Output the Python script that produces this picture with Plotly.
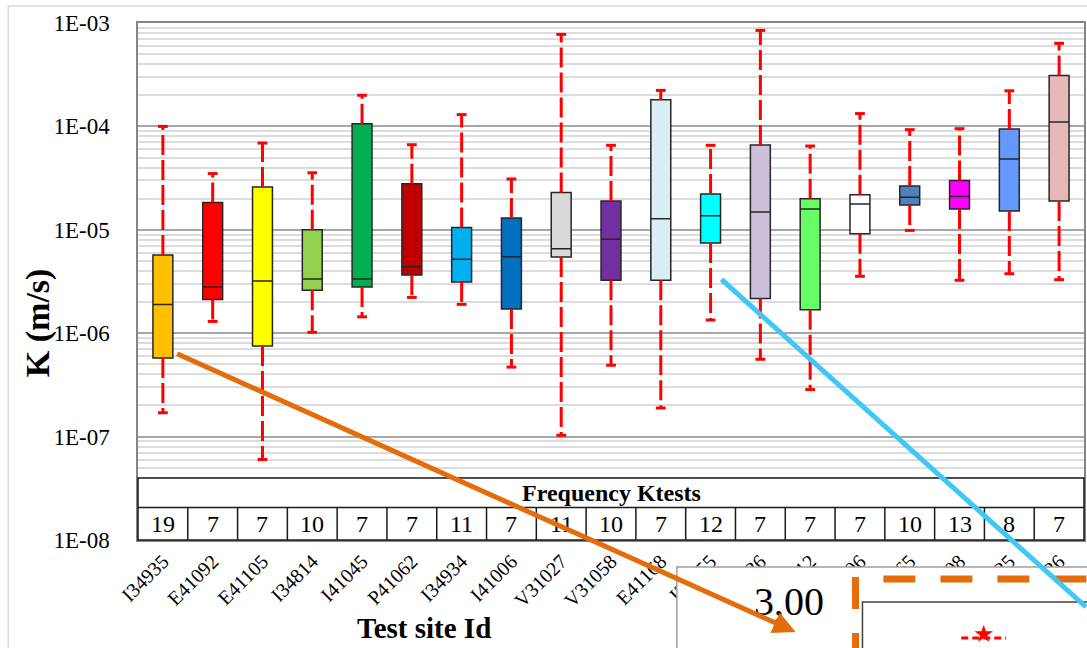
import plotly.graph_objects as go

# ---------------- data ----------------
sites = ["I34935", "E41092", "E41105", "I34814", "I41045", "P41062", "I34934",
         "I41006", "V31027", "V31058", "E41168", "I34855", "V31036", "E41112",
         "P41106", "I34865", "V31108", "E41125", "I41126"]
counts = [19, 7, 7, 10, 7, 7, 11, 7, 11, 10, 7, 12, 7, 7, 7, 10, 13, 8, 7]
k_min = [1.7e-7, 1.3e-6, 6.0e-8, 1.02e-6, 1.44e-6, 2.22e-6, 1.9e-6, 4.7e-7, 1.03e-7,
         4.9e-7, 1.89e-7, 1.34e-6, 5.6e-7, 2.85e-7, 3.55e-6, 9.87e-6, 3.25e-6, 3.76e-6, 3.29e-6]
k_q1 = [5.75e-7, 2.12e-6, 7.5e-7, 2.6e-6, 2.8e-6, 3.66e-6, 3.13e-6, 1.71e-6, 5.46e-6,
        3.25e-6, 3.25e-6, 7.45e-6, 2.16e-6, 1.69e-6, 9.16e-6, 1.74e-5, 1.59e-5, 1.52e-5, 1.9e-5]
k_med = [1.9e-6, 2.8e-6, 3.2e-6, 3.35e-6, 3.35e-6, 4.4e-6, 5.2e-6, 5.5e-6, 6.55e-6,
         8.1e-6, 1.28e-5, 1.37e-5, 1.49e-5, 1.59e-5, 1.78e-5, 2.06e-5, 2.1e-5, 4.84e-5, 1.1e-4]
k_q3 = [5.7e-6, 1.84e-5, 2.6e-5, 1.0e-5, 1.06e-4, 2.79e-5, 1.05e-5, 1.3e-5, 2.3e-5,
        1.9e-5, 1.81e-4, 2.22e-5, 6.6e-5, 2.0e-5, 2.18e-5, 2.65e-5, 2.99e-5, 9.44e-5, 3.11e-4]
k_max = [1.0e-4, 3.5e-5, 6.9e-5, 3.56e-5, 2.0e-4, 6.65e-5, 1.3e-4, 3.1e-5, 7.76e-4,
         6.56e-5, 2.23e-4, 6.56e-5, 8.48e-4, 6.46e-5, 1.33e-4, 9.3e-5, 9.5e-5, 2.21e-4, 6.36e-4]
box_colors = ["#FFC000", "#FF0000", "#FFFF00", "#92D050", "#00B050", "#C00000", "#00B0F0",
              "#0070C0", "#D9D9D9", "#7030A0", "#DAEEF3", "#00FFFF", "#CCC0DA", "#66FF66",
              "#FFFFFF", "#4F81BD", "#FF00FF", "#6699FF", "#E6B9B8"]
y_tickvals = [1e-8, 1e-7, 1e-6, 1e-5, 1e-4, 1e-3]
y_ticktext = ["1E-08", "1E-07", "1E-06", "1E-05", "1E-04", "1E-03"]
minor_vals = [m * 10.0 ** e for e in range(-8, -3) for m in range(2, 10)]

SERIF = "Liberation Serif"
W, H = 1087, 648
L, R, T, B = 138, 1, 23, 108
PW, PH = W - L - R, H - T - B


def px(x):
    return (x - L) / PW


def py(y):
    return (H - B - y) / PH


fig = go.Figure()

# whiskers (dashed red)
wx, wy = [], []
for s, lo, q1, q3, hi in zip(sites, k_min, k_q1, k_q3, k_max):
    wx += [s, s, None, s, s, None]
    wy += [q3, hi, None, q1, lo, None]
fig.add_trace(go.Scatter(x=wx, y=wy, mode="lines",
                         line=dict(color="#FF0000", width=3, dash="20px,5px"),
                         hoverinfo="skip", showlegend=False))
# caps
fig.add_trace(go.Scatter(x=sites + sites, y=k_max + k_min, mode="markers",
                         marker=dict(symbol="line-ew", size=7,
                                     line=dict(color="#FF0000", width=3)),
                         hoverinfo="skip", showlegend=False))

# boxes
for s, q1, md, q3, c in zip(sites, k_q1, k_med, k_q3, box_colors):
    fig.add_trace(go.Box(x=[s], q1=[q1], median=[md], q3=[q3],
                         lowerfence=[q1], upperfence=[q3],
                         fillcolor=c, line=dict(color="#262626", width=1.5),
                         width=0.4, whiskerwidth=0, boxpoints=False,
                         hoverinfo="skip", showlegend=False))

shapes = []
# table
tab_top, tab_mid = py(478), py(507.5)
shapes.append(dict(type="rect", xref="paper", yref="paper", x0=0, x1=1, y0=0, y1=tab_top,
                   fillcolor="white", line=dict(color="#1a1a1a", width=1.5), layer="above"))
shapes.append(dict(type="line", xref="paper", yref="paper", x0=0, x1=1, y0=tab_mid, y1=tab_mid,
                   line=dict(color="#1a1a1a", width=1.5), layer="above"))
for i in range(len(sites) - 1):
    shapes.append(dict(type="line", xref="x", yref="paper", x0=i + 0.5, x1=i + 0.5,
                       y0=0, y1=tab_mid, line=dict(color="#1a1a1a", width=1.5), layer="above"))
# outer chart border
shapes.append(dict(type="rect", xref="paper", yref="paper", x0=px(8), x1=px(1120),
                   y0=py(700), y1=py(6), line=dict(color="#D9D9D9", width=1.5), layer="above"))
# overlay inset
shapes.append(dict(type="rect", xref="paper", yref="paper", x0=px(678), x1=px(1120),
                   y0=py(700), y1=py(567), fillcolor="white",
                   line=dict(color="#A0A0A0", width=1.5), layer="above"))
shapes.append(dict(type="rect", xref="paper", yref="paper", x0=px(864), x1=px(1120),
                   y0=py(700), y1=py(602),
                   line=dict(color="#404040", width=1.5), layer="above"))
shapes.append(dict(type="line", xref="paper", yref="paper", x0=px(857), x1=px(857),
                   y0=py(577), y1=py(680),
                   line=dict(color="#E46C0A", width=7, dash="32px,24px"), layer="above"))
shapes.append(dict(type="line", xref="paper", yref="paper", x0=px(885), x1=px(1120),
                   y0=py(579), y1=py(579),
                   line=dict(color="#E46C0A", width=7, dash="32px,25px"), layer="above"))
shapes.append(dict(type="line", xref="paper", yref="paper", x0=px(963), x1=px(1008),
                   y0=py(638), y1=py(638),
                   line=dict(color="#FF0000", width=3, dash="7px,4px"), layer="above"))

C = dict(xanchor="center", yanchor="middle", showarrow=False)
annotations = []
for s, n in zip(sites, counts):
    annotations.append(dict(x=s, y=py(524), xref="x", yref="paper", text=str(n),
                            font=dict(family=SERIF, size=24, color="black"), **C))
annotations.append(dict(x=0.5, y=py(493), xref="paper", yref="paper",
                        text="<b>Frequency Ktests</b>",
                        font=dict(family=SERIF, size=24, color="black"), **C))
annotations.append(dict(x=px(425), y=py(628), xref="paper", yref="paper",
                        text="<b>Test site Id</b>",
                        font=dict(family=SERIF, size=29, color="black"), **C))
annotations.append(dict(x=px(38), y=py(323), xref="paper", yref="paper",
                        text="<b>K (m/s)</b>", textangle=-90,
                        font=dict(family=SERIF, size=34, color="black"), **C))
annotations.append(dict(x=px(790), y=py(601), xref="paper", yref="paper",
                        text="3,00",
                        font=dict(family=SERIF, size=40, color="black"), **C))
annotations.append(dict(x=px(986), y=py(634), xref="paper", yref="paper",
                        text="★",
                        font=dict(family="DejaVu Sans", size=24, color="#FF0000"), **C))
# cyan line
annotations.append(dict(x=px(1092), y=py(607), xref="paper", yref="paper", text="",
                        showarrow=True, arrowhead=0, arrowwidth=5, arrowcolor="#3FC8F4",
                        ax=722 - 1092, ay=278 - 607, standoff=0, startstandoff=0))
# orange arrow
annotations.append(dict(x=px(797), y=py(632), xref="paper", yref="paper", text="",
                        showarrow=True, arrowhead=2, arrowsize=0.9, arrowwidth=5,
                        arrowcolor="#E46C0A",
                        ax=177 - 797, ay=353 - 632, standoff=0, startstandoff=0))

fig.update_layout(
    width=W, height=H,
    margin=dict(l=L, r=R, t=T, b=B),
    paper_bgcolor="white", plot_bgcolor="white",
    boxmode="overlay",
    shapes=shapes, annotations=annotations,
    xaxis=dict(type="category", categoryorder="array", categoryarray=sites,
               range=[-0.5, len(sites) - 0.5], tickangle=-45,
               tickfont=dict(family=SERIF, size=20, color="black"),
               showgrid=False, showline=True, linecolor="#868686", mirror=True,
               linewidth=1.5, ticks=""),
    yaxis=dict(type="log", range=[-8, -3], tickmode="array",
               tickvals=y_tickvals, ticktext=y_ticktext,
               tickfont=dict(family=SERIF, size=23, color="black"),
               ticklabelstandoff=22,
               showgrid=True, gridcolor="#A6A6A6", gridwidth=1.5,
               showline=True, linecolor="#868686", mirror=True, linewidth=1.5,
               ticks="", zeroline=False,
               minor=dict(tickmode="array", tickvals=minor_vals, showgrid=True,
                          gridcolor="#DCDCDC", gridwidth=1.5, ticks="")),
)

fig.write_html("out.html", config={"displayModeBar": False},
               post_script="document.body.style.margin='0';")
